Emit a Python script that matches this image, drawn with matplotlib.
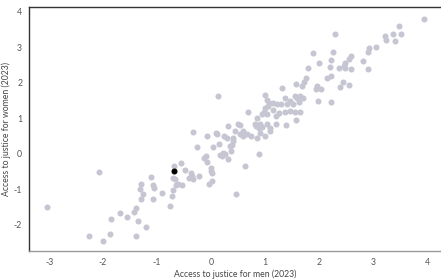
import matplotlib.pyplot as plt
import numpy as np

plt.rcParams['font.family'] = ['Lato', 'DejaVu Sans']

# Access to justice scores, men vs women (2023)
men = [
    -3.04, -2.07, -2.26, -2.00, -1.87, -1.85, -1.69, -1.56, -1.43, -1.39,
    -1.35, -1.39, -1.20, -1.30, -1.31, -1.26, -1.30, -1.11, -1.07, -1.06,
    -1.07, -0.91, -0.76, -0.72, -0.70, -0.69, -0.70, -0.67, -0.65, -0.61,
    -0.54, -0.56, -0.48, -0.37, -0.35, -0.41, -0.33, -0.22, -0.26, -0.13,
    -0.09, -0.07, 0.00, 0.00, 0.02, -0.04, 0.02, 0.04, 0.15, 0.17,
    0.22, 0.26, 0.31, 0.39, 0.37, 0.41, 0.63, 0.89, 0.46, -0.33,
    -0.07, 0.11, 0.31, 0.50, 0.24, 0.30, 0.41, 0.44, 0.54, 0.59,
    0.67, 0.74, 0.83, 0.89, 0.35, 0.20, 0.13, 0.09, 0.85, 1.39,
    1.57, 1.80, 2.00, 2.20, 2.37, 2.48, 1.31, 1.57, 1.69, 1.76,
    1.72, 1.96, 1.94, 2.04, 2.15, 2.22, 2.39, 2.56, 1.00, 1.04,
    1.37, 1.46, 1.56, 1.59, 1.65, 1.70, 1.63, 1.52, 1.41, 1.30,
    1.22, 1.15, 1.07, 1.06, 1.00, 0.98, 0.94, 1.04, 1.26, 1.37,
    1.46, 1.56, 1.65, 1.15, 1.20, 1.98, 2.22, 0.69, 0.85, 0.91,
    0.81, 0.94, 1.04, 1.09, 1.20, 0.54, 0.59, 0.91, 1.00, 1.09,
    3.94, 3.48, 3.37, 3.52, 3.22, 3.24, 3.41, 2.30, 3.06, 2.93,
    2.91, 2.81, 2.91, 2.26, 2.59, 2.56, 2.48, 2.46, 2.59, 2.44,
    1.89, 2.22,
]
women = [
    -1.49, -0.51, -2.31, -2.45, -2.25, -1.83, -1.66, -1.77, -1.63, -1.52,
    -1.89, -2.31, -2.06, -0.85, -0.99, -1.13, -1.27, -0.65, -0.87, -0.96,
    -1.27, -1.10, -1.46, -1.18, -1.01, -0.34, -0.68, -0.70, -0.87, -0.85,
    -0.87, -0.25, -0.45, -0.54, -0.62, -0.68, -0.70, -0.62, 0.20, -0.11,
    -0.06, -0.23, -0.39, -0.48, -0.54, -0.85, -0.76, 0.20, 0.28, -0.03,
    0.03, 0.00, -0.14, 0.25, 0.08, 0.37, -0.34, 0.00, -1.13, 0.62,
    0.51, 0.56, 0.79, 0.85, 0.51, 0.45, 0.45, 0.65, 0.56, 0.51,
    0.56, 0.51, 0.79, 0.73, 0.23, -0.06, 1.63, 0.59, 0.45, 0.82,
    0.96, 2.42, 2.56, 2.45, 2.42, 2.42, 1.86, 1.97, 1.92, 2.14,
    2.03, 1.92, 1.83, 1.83, 2.14, 2.20, 1.89, 1.94, 1.66, 1.52,
    1.58, 1.49, 1.63, 1.58, 1.63, 1.58, 1.46, 1.41, 1.41, 1.41,
    1.41, 1.44, 1.44, 1.35, 1.30, 1.18, 1.13, 1.13, 1.15, 1.18,
    1.21, 1.18, 1.18, 1.24, 1.07, 1.49, 1.46, 1.18, 1.01, 0.85,
    0.85, 0.76, 0.85, 0.73, 0.85, 0.82, 0.65, 0.59, 0.51, 0.65,
    3.80, 3.61, 3.38, 3.38, 3.32, 3.21, 3.18, 3.38, 3.01, 2.99,
    2.87, 2.62, 2.39, 2.87, 2.76, 2.68, 2.56, 2.48, 2.39, 2.03,
    2.85, 2.65,
]
# highlighted country
hl_men = [-0.69]
hl_women = [-0.48]

x_ticks = [-3, -2, -1, 0, 1, 2, 3, 4]
y_ticks = [-2, -1, 0, 1, 2, 3, 4]

fig = plt.figure(figsize=(4.41, 2.80), dpi=100)
ax = fig.add_axes([0.066, 0.104, 0.934, 0.871])

ax.scatter(men, women, s=19, color='#c6c6d3', linewidths=0, zorder=2)
ax.scatter(hl_men, hl_women, s=19, color='#000000', linewidths=0, zorder=3)

ax.set_xlim(-3.37, 4.26)
ax.set_ylim(-2.73, 4.14)
ax.set_xticks(x_ticks)
ax.set_yticks(y_ticks)
ax.set_xticklabels([str(t) for t in x_ticks])
ax.set_yticklabels([str(t) for t in y_ticks])
ax.tick_params(length=0, labelsize=6.3, colors='#555555', pad=5)

ax.spines['right'].set_visible(False)
ax.spines['left'].set_color('#333333')
ax.spines['top'].set_color('#333333')
ax.spines['bottom'].set_color('#999999')
for s in ['left', 'top', 'bottom']:
    ax.spines[s].set_linewidth(1.0)

ax.set_xlabel("Access to justice for men (2023)", fontsize=6.2, color='#444444')
ax.set_ylabel("Access to justice for women (2023)", fontsize=6.2, color='#444444')
ax.xaxis.set_label_coords(0.5, -0.075)
ax.yaxis.set_label_coords(-0.045, 0.5)

fig.savefig("out.png", dpi=100)
